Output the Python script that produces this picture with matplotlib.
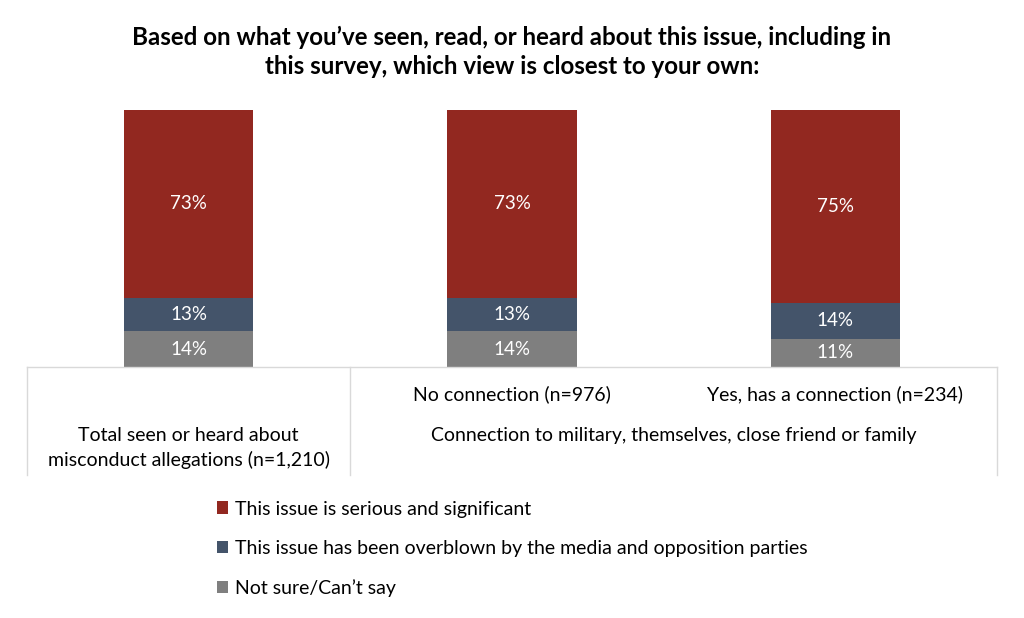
import matplotlib.pyplot as plt

plt.rcParams['font.family'] = ['Lato', 'DejaVu Sans']

### data
groups = ['Total seen or heard about\nmisconduct allegations (n=1,210)',
          'No connection (n=976)',
          'Yes, has a connection (n=234)']
serious    = [73, 73, 75]
overblown  = [13, 13, 14]
not_sure   = [14, 14, 11]
series_names = ['This issue is serious and significant',
                'This issue has been overblown by the media and opposition parties',
                'Not sure/Can\u2019t say']
colors = ['#922820', '#44546A', '#7F7F7F']
supergroup = 'Connection to military, themselves, close friend or family'
title = ('Based on what you\u2019ve seen, read, or heard about this issue, including in\n'
         'this survey, which view is closest to your own:')

fig = plt.figure(figsize=(10.24, 6.18), dpi=100)
ax = fig.add_axes([27/1024, 1 - 367/618, 970/1024, 257/618])

x = range(len(groups))
bottoms = [0] * len(groups)
stack = [(not_sure, colors[2], series_names[2]),
         (overblown, colors[1], series_names[1]),
         (serious, colors[0], series_names[0])]
handles = {}
for vals, col, name in stack:
    bars = ax.bar(x, vals, bottom=bottoms, width=0.4, color=col, label=name)
    handles[name] = bars
    for i, v in enumerate(vals):
        ax.text(i, bottoms[i] + v / 2, f'{v}%', ha='center', va='center',
                color='white', fontsize=13.5)
    bottoms = [b + v for b, v in zip(bottoms, vals)]

ax.set_xlim(-0.5, 2.5)
ax.set_ylim(0, 100)
ax.axis('off')

# category table under the bars
lc = '#D9D9D9'
ax.plot([0, 1], [0, 0], color=lc, lw=1, transform=ax.transAxes, clip_on=False)
for xv in [0, 1/3, 1]:
    ax.plot([xv, xv], [0, -108/257], color=lc, lw=1, transform=ax.transAxes, clip_on=False)

ax.text(0, -(436 + 12 - 367) / 257 * 100, groups[0], ha='center', va='center',
        fontsize=14, linespacing=1.4)
for i in [1, 2]:
    ax.text(i, -(394 - 367) / 257 * 100, groups[i], ha='center', va='center', fontsize=14)
ax.text(1.5, -(436 - 367) / 257 * 100, supergroup, ha='center', va='center', fontsize=14)

fig.text(0.5, 1 - 52/618, title, ha='center', va='center', fontsize=17.4,
         fontweight='bold', linespacing=1.35)

leg = fig.legend([handles[n] for n in series_names], series_names,
                 loc='upper left', bbox_to_anchor=(199/1024, 1 - 483/618),
                 frameon=False, fontsize=14, handlelength=0.6, handleheight=0.6,
                 handletextpad=0.35, labelspacing=1.15)

fig.savefig('out.png', dpi=100)
